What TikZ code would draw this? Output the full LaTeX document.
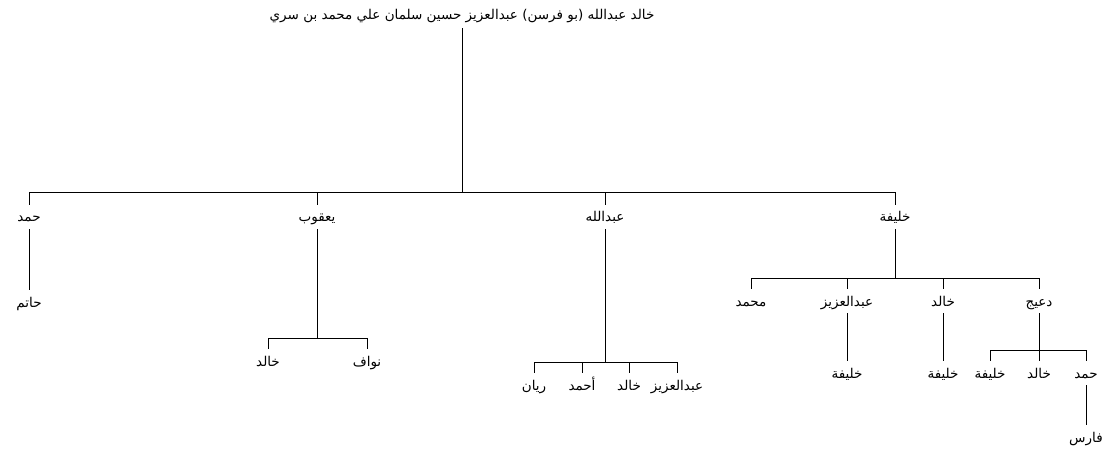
\documentclass[tikz,border=0pt]{standalone}
\usepackage{fontspec}
\newfontfamily\arabicfont[Script=Arabic]{DejaVu Sans}
\TeXXeTstate=1
\newcommand{\artext}[1]{\beginR #1\endR}
\begin{document}
\begin{tikzpicture}[x=1pt,y=-1pt,
  person/.style={font=\arabicfont\fontsize{13.5}{15}\selectfont, inner sep=0pt, text height=11pt, text depth=1pt, minimum height=24pt, text=black},
  rootp/.style={person, minimum height=26pt},
  link/.style={draw=black, line width=1pt}]
\useasboundingbox[fill=white] (0,0) rectangle (1114,449);
% root
\node[rootp] (r) at (462,15) {\artext{خالد عبدالله (بو فرسن) عبدالعزيز حسين سلمان علي محمد بن سري}};
% generation 1
\node[person] (a1) at (29,217) {\artext{حمد}};
\node[person] (a2) at (317,217) {\artext{يعقوب}};
\node[person] (a3) at (605,217) {\artext{عبدالله}};
\node[person] (a4) at (895,217) {\artext{خليفة}};
\coordinate (j0) at (462,193);
\draw[link] (r.south) -- (j0);
\draw[link] (j0) -| (a1.north);
\draw[link] (j0) -| (a2.north);
\draw[link] (j0) -| (a3.north);
\draw[link] (j0) -| (a4.north);
% حمد
\node[person] (b1) at (29,302) {\artext{حاتم}};
\draw[link] (a1.south) -- (b1.north);
% يعقوب
\node[person] (c1) at (268,361) {\artext{خالد}};
\node[person] (c2) at (367,361) {\artext{نواف}};
\coordinate (j2) at (317,338);
\draw[link] (a2.south) -- (j2);
\draw[link] (j2) -| (c1.north);
\draw[link] (j2) -| (c2.north);
% عبدالله
\node[person] (d1) at (534,385) {\artext{ريان}};
\node[person] (d2) at (582,385) {\artext{أحمد}};
\node[person] (d3) at (629,385) {\artext{خالد}};
\node[person] (d4) at (677,385) {\artext{عبدالعزيز}};
\coordinate (j3) at (605,362);
\draw[link] (a3.south) -- (j3);
\draw[link] (j3) -| (d1.north);
\draw[link] (j3) -| (d2.north);
\draw[link] (j3) -| (d3.north);
\draw[link] (j3) -| (d4.north);
% خليفة
\node[person] (e1) at (751,301) {\artext{محمد}};
\node[person] (e2) at (847,301) {\artext{عبدالعزيز}};
\node[person] (e3) at (943,301) {\artext{خالد}};
\node[person] (e4) at (1039,301) {\artext{دعيج}};
\coordinate (j4) at (895,278);
\draw[link] (a4.south) -- (j4);
\draw[link] (j4) -| (e1.north);
\draw[link] (j4) -| (e2.north);
\draw[link] (j4) -| (e3.north);
\draw[link] (j4) -| (e4.north);
% grandchildren
\node[person] (f1) at (847,373) {\artext{خليفة}};
\draw[link] (e2.south) -- (f1.north);
\node[person] (g1) at (943,373) {\artext{خليفة}};
\draw[link] (e3.south) -- (g1.north);
% دعيج
\node[person] (h1) at (990,373) {\artext{خليفة}};
\node[person] (h2) at (1039,373) {\artext{خالد}};
\node[person] (h3) at (1086,373) {\artext{حمد}};
\coordinate (j5) at (1039,350);
\draw[link] (e4.south) -- (j5);
\draw[link] (j5) -| (h1.north);
\draw[link] (j5) -| (h2.north);
\draw[link] (j5) -| (h3.north);
% حمد
\node[person] (k1) at (1086,437) {\artext{فارس}};
\draw[link] (h3.south) -- (k1.north);
\end{tikzpicture}
\end{document}
